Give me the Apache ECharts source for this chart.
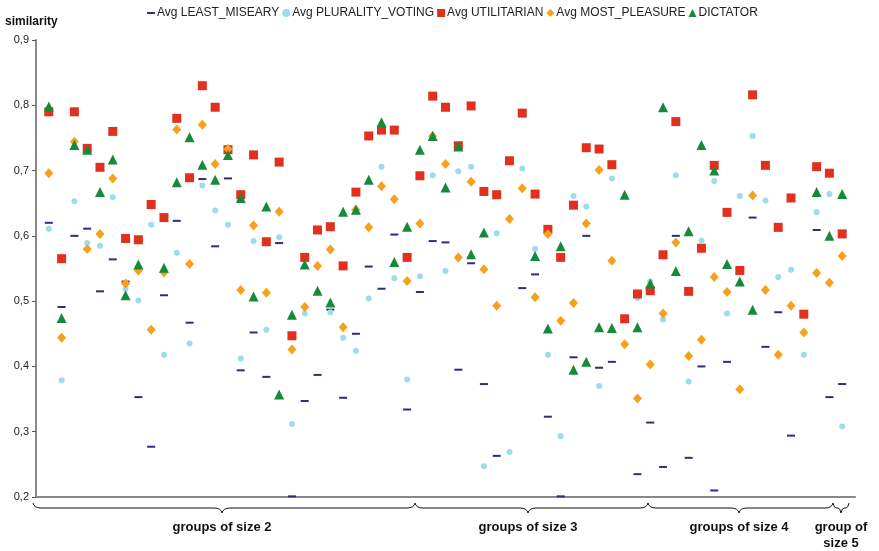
<!DOCTYPE html>
<html>
<head>
<meta charset="utf-8">
<script src="https://cdn.jsdelivr.net/npm/echarts@6/dist/echarts.min.js"></script>
<style>html,body{margin:0;padding:0;background:#fff}#c{width:879px;height:551px}</style>
</head>
<body>
<div id="c"></div>
<script>
// Category index 1..63 (groups of size 2: 1-29, size 3: 30-47, size 4: 48-62, size 5: 63)
const leastMisery = [0.620,0.491,0.600,0.611,0.515,0.564,0.530,0.353,0.277,0.509,0.623,0.467,0.687,0.584,0.688,0.394,0.452,0.384,0.589,0.201,0.347,0.387,0.487,0.352,0.450,0.553,0.519,0.602,0.334,0.514,0.592,0.590,0.395,0.558,0.373,0.263,null,0.520,0.541,0.323,0.201,0.414,0.600,0.398,0.407,null,0.235,0.314,0.246,0.600,0.260,0.400,0.210,0.407,null,0.628,0.430,0.483,0.294,null,0.609,0.353,0.373];
const pluralityVoting = [0.611,0.379,0.653,0.589,0.585,0.659,0.519,0.501,0.617,0.418,0.574,0.435,0.677,0.639,0.617,0.412,0.592,0.456,0.598,0.312,0.481,0.514,0.483,0.444,0.424,0.504,0.706,0.535,0.380,0.538,0.693,0.546,0.699,0.706,0.247,0.604,0.269,0.703,0.580,0.418,0.293,0.661,0.645,0.370,0.688,null,0.505,0.530,0.472,0.693,0.377,0.593,0.684,0.481,0.661,0.753,0.654,0.537,0.548,0.418,0.636,0.664,0.308];
const utilitarian = [0.790,0.565,0.790,0.734,0.705,0.760,0.596,0.594,0.648,0.628,0.780,0.689,0.830,0.797,0.732,0.663,0.724,0.591,0.713,0.447,0.567,0.609,0.614,0.554,0.667,0.753,0.762,0.762,0.567,0.692,0.814,0.797,0.738,0.799,0.668,0.663,0.715,0.788,0.664,0.610,0.567,0.647,0.735,0.733,0.709,0.473,0.511,0.516,0.571,0.775,0.515,0.581,0.708,0.636,0.547,0.816,0.708,0.613,0.658,0.480,0.706,0.696,0.603];
const mostPleasure = [0.696,0.444,0.744,0.580,0.603,0.688,0.527,0.547,0.456,0.544,0.763,0.557,0.770,0.710,0.733,0.517,0.616,0.513,0.637,0.426,0.491,0.554,0.579,0.460,0.640,0.613,0.676,0.656,0.531,0.619,0.753,0.710,0.567,0.683,0.549,0.493,0.626,0.673,0.506,0.603,0.470,0.497,0.619,0.701,0.562,0.434,0.351,0.403,0.481,0.590,0.416,0.441,0.537,0.514,0.365,0.662,0.517,0.418,0.493,0.452,0.543,0.528,0.569];
const dictator = [0.798,0.474,0.739,0.732,0.667,0.717,0.509,0.556,null,0.551,0.682,0.751,0.709,0.686,0.724,0.658,0.507,0.645,0.357,0.479,0.556,0.516,0.498,0.637,0.640,0.686,0.774,0.560,0.614,0.732,0.753,0.674,0.737,0.572,0.605,null,null,null,0.569,0.458,0.584,0.395,0.407,0.460,0.459,0.663,0.460,0.527,0.797,0.546,0.607,0.739,0.700,0.557,0.530,0.487,null,null,null,null,0.667,0.600,0.664];
const seriesNames = ['Avg LEAST_MISEARY','Avg PLURALITY_VOTING','Avg UTILITARIAN','Avg MOST_PLEASURE','DICTATOR'];
const groupLabels = ['groups of size 2','groups of size 3','groups of size 4','group of\nsize 5'];

function pts(arr){ return arr.map((v,i)=>[i+1, v]).filter(p=>p[1]!==null); }

const chart = echarts.init(document.getElementById('c'));
const FONT = '"Liberation Sans", Arial, sans-serif';
const LS = {stroke:'#111', fill:null, lineWidth:1};
function brace(x1,x2,tip,r){
  r = r||8;
  const y0=503, y1=508, y2=513;
  return [
    {type:'bezierCurve', shape:{x1:x1,y1:y0,cpx1:x1+1,cpy1:y1,x2:x1+r,y2:y1}, style:LS},
    {type:'line', shape:{x1:x1+r,y1:y1,x2:tip-r,y2:y1}, style:LS},
    {type:'bezierCurve', shape:{x1:tip-r,y1:y1,cpx1:tip-1,cpy1:y1,x2:tip,y2:y2}, style:LS},
    {type:'bezierCurve', shape:{x1:tip,y1:y2,cpx1:tip+1,cpy1:y1,x2:tip+r,y2:y1}, style:LS},
    {type:'line', shape:{x1:tip+r,y1:y1,x2:x2-r,y2:y1}, style:LS},
    {type:'bezierCurve', shape:{x1:x2-r,y1:y1,cpx1:x2-1,cpy1:y1,x2:x2,y2:y0}, style:LS}
  ];
}
const braces = [].concat(brace(33,415,222), brace(415,648,528), brace(648,833,739), brace(833,849,841,3));
chart.setOption({
  animation:false,
  textStyle:{fontFamily:FONT},
  legend:{
    top:2, left:142, itemWidth:8, itemHeight:8, itemGap:3,
    textStyle:{fontSize:12,color:'#222',fontFamily:FONT, padding:[0,0,0,-3]},
    data:[
      {name:seriesNames[0], icon:'path://M0,0h8v2h-8z'},
      {name:seriesNames[1], icon:'circle'},
      {name:seriesNames[2], icon:'rect'},
      {name:seriesNames[3], icon:'diamond'},
      {name:seriesNames[4], icon:'triangle'}
    ]
  },
  grid:{left:36, right:24, top:40, bottom:54, containLabel:false},
  xAxis:{type:'value', min:0, max:64, axisLabel:{show:false}, axisTick:{show:false}, splitLine:{show:false},
    axisLine:{show:true, onZero:false, lineStyle:{color:'#888', width:2}}},
  yAxis:{type:'value', min:0.2, max:0.9, interval:0.1, splitLine:{show:false},
    axisLine:{show:true, lineStyle:{color:'#888', width:2}},
    axisTick:{show:true, length:4, lineStyle:{color:'#555'}},
    axisLabel:{color:'#222', fontSize:11, margin:7, formatter:v=>v.toFixed(1).replace('.',',')}},
  series:[
    {name:seriesNames[0], type:'scatter', symbol:'rect', symbolSize:[8,2], itemStyle:{color:'#2E2C7C', opacity:1}, data:pts(leastMisery)},
    {name:seriesNames[1], type:'scatter', symbol:'circle', symbolSize:6, itemStyle:{color:'#9EDCEB', opacity:1}, data:pts(pluralityVoting)},
    {name:seriesNames[2], type:'scatter', symbol:'rect', symbolSize:9, itemStyle:{color:'#E1301E', opacity:1}, data:pts(utilitarian)},
    {name:seriesNames[3], type:'scatter', symbol:'diamond', symbolSize:[9,10], itemStyle:{color:'#F9A01B', opacity:1}, data:pts(mostPleasure)},
    {name:seriesNames[4], type:'scatter', symbol:'triangle', symbolSize:[10,10], itemStyle:{color:'#158A38', opacity:1}, data:pts(dictator)}
  ],
  graphic:[
    {type:'text', left:5, top:16, style:{text:'similarity', font:'bold 12px '+FONT, fill:'#111'}},
    {type:'group', children:braces},
    {type:'text', x:222, y:527, style:{text:groupLabels[0], font:'bold 13px '+FONT, fill:'#111', textAlign:'center', textVerticalAlign:'middle'}},
    {type:'text', x:528, y:527, style:{text:groupLabels[1], font:'bold 13px '+FONT, fill:'#111', textAlign:'center', textVerticalAlign:'middle'}},
    {type:'text', x:739, y:527, style:{text:groupLabels[2], font:'bold 13px '+FONT, fill:'#111', textAlign:'center', textVerticalAlign:'middle'}},
    {type:'text', x:841, y:535, style:{text:groupLabels[3], font:'bold 13px '+FONT, fill:'#111', textAlign:'center', textVerticalAlign:'middle', lineHeight:16}}
  ]
});
</script>
</body>
</html>
